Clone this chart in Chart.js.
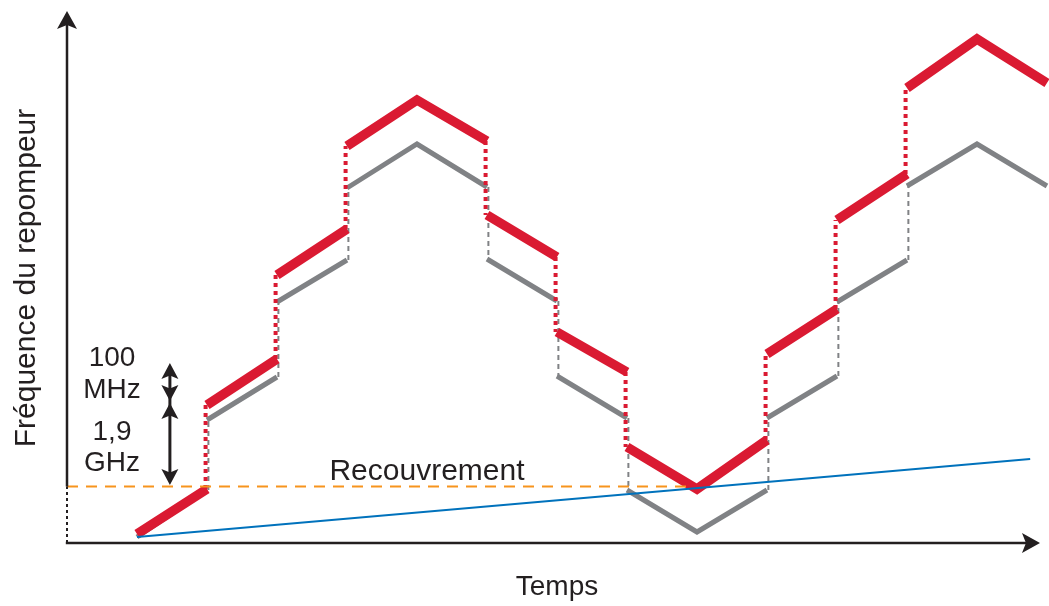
<!DOCTYPE html>
<html lang="fr">
<head>
  <meta charset="UTF-8">
  <title>Fréquence du repompeur</title>
  <script src="https://cdn.jsdelivr.net/npm/chart.js"></script>
  <style>
    body { margin: 0; background: #fff; }
    #wrap { width: 1049px; height: 606px; }
  </style>
</head>
<body>
<div id="wrap"><canvas id="chart" width="1049" height="606"></canvas></div>
<script>
  // time steps (start of each segment), frequency in arbitrary units
  const steps = [0, 1, 2, 3, 4, 5, 6, 7, 8, 9, 10, 11, 12];
  const redStart  = [0.9, 13.8, 26.8, 39.7, 44.3, 32.8, 21.1, 9.6, 5.4, 18.9, 32.3, 45.5, 50.4];
  const redEnd    = [5.4, 18.4, 31.4, 44.3, 40.2, 28.6, 17.1, 5.4, 10.3, 23.4, 36.9, 50.4, 46.0];
  const grayStart = [0.6, 12.3, 24.1, 35.5, 39.9, 28.4, 16.7, 5.3, 1.1, 12.5, 24.1, 35.7, 39.9];
  const grayEnd   = [5.3, 16.6, 28.3, 39.9, 35.6, 24.2, 12.5, 1.1, 5.3, 16.7, 28.3, 39.9, 35.7];
  const blueTime = [0, 12.76];
  const blueFreq = [0.6, 8.4];
  const recouvrement = 5.65;
  const recouvrementEnd = 7.85;
  const gapTime = 0.47;
  const gapLevels = [5.8, 14.1, 18.0];   // bottom, 1,9 GHz / 100 MHz split, top

  // segments with breaks (null) where the value jumps
  function segments(starts, ends) {
    const pts = [];
    steps.forEach((t, i) => {
      if (i === 0 || starts[i] !== ends[i - 1]) {
        if (i > 0) pts.push({ x: t, y: null });
        pts.push({ x: t, y: starts[i] });
      }
      pts.push({ x: t + 1, y: ends[i] });
    });
    return pts;
  }
  // vertical connectors at every jump
  function jumps(starts, ends, shift) {
    const pts = [];
    for (let i = 1; i < steps.length; i++) {
      if (starts[i] === ends[i - 1]) continue;
      pts.push({ x: steps[i] + shift, y: ends[i - 1] });
      pts.push({ x: steps[i] + shift, y: starts[i] });
      pts.push({ x: steps[i] + shift, y: null });
    }
    return pts;
  }

  const ink = '#231f20';

  function arrowHead(ctx, tx, ty, dx, dy, len, hw) {
    const bx = tx - dx * len, by = ty - dy * len;
    const nx = tx - dx * len * 0.78, ny = ty - dy * len * 0.78;
    ctx.beginPath();
    ctx.moveTo(tx, ty);
    ctx.lineTo(bx - dy * hw, by + dx * hw);
    ctx.lineTo(nx, ny);
    ctx.lineTo(bx + dy * hw, by - dx * hw);
    ctx.closePath();
    ctx.fill();
  }

  const overlay = {
    id: 'overlay',
    afterDraw(chart) {
      const { ctx, scales: { x, y } } = chart;
      const X = v => x.getPixelForValue(v), Y = v => y.getPixelForValue(v);
      ctx.save();
      ctx.strokeStyle = ink;
      ctx.fillStyle = ink;

      // axes
      const x0 = X(-1), y0 = Y(0);
      ctx.lineWidth = 2.5;
      ctx.beginPath();
      ctx.moveTo(x0, Y(recouvrement));
      ctx.lineTo(x0, 24);
      ctx.stroke();
      ctx.beginPath();
      ctx.moveTo(x0 - 1.2, y0);
      ctx.lineTo(1026, y0);
      ctx.stroke();
      ctx.setLineDash([3, 3]);
      ctx.lineWidth = 2;
      ctx.beginPath();
      ctx.moveTo(x0, y0);
      ctx.lineTo(x0, Y(recouvrement));
      ctx.stroke();
      ctx.setLineDash([]);
      arrowHead(ctx, x0, 11, 0, -1, 18, 10);
      arrowHead(ctx, 1040, y0, 1, 0, 18, 10);

      // double arrows
      const ax = X(gapTime);
      ctx.lineWidth = 3;
      ctx.beginPath();
      ctx.moveTo(ax, Y(gapLevels[2]) + 8);
      ctx.lineTo(ax, Y(gapLevels[0]) - 8);
      ctx.stroke();
      const mid = Y(gapLevels[1]);
      arrowHead(ctx, ax, Y(gapLevels[2]), 0, -1, 16, 8.5);
      arrowHead(ctx, ax, mid - 1, 0, 1, 16, 8.5);
      arrowHead(ctx, ax, mid + 1, 0, -1, 16, 8.5);
      arrowHead(ctx, ax, Y(gapLevels[0]), 0, 1, 16, 8.5);

      // texts
      ctx.font = '28px "Liberation Sans", Arial, sans-serif';
      ctx.textAlign = 'center';
      ctx.textBaseline = 'middle';
      ctx.fillText('100', 112, 358);
      ctx.fillText('MHz', 112, 390);
      ctx.fillText('1,9', 112, 432);
      ctx.fillText('GHz', 112, 463);
      ctx.font = '30px "Liberation Sans", Arial, sans-serif';
      ctx.fillText('Recouvrement', 427, 472);
      ctx.font = '28px "Liberation Sans", Arial, sans-serif';
      ctx.fillText('Temps', 557, 587);
      ctx.save();
      ctx.translate(27, 278);
      ctx.rotate(-Math.PI / 2);
      ctx.font = '30px "Liberation Sans", Arial, sans-serif';
      ctx.fillText('Fréquence du repompeur', 0, 0);
      ctx.restore();

      ctx.restore();
    }
  };

  const ctx = document.getElementById('chart').getContext('2d');
  new Chart(ctx, {
    type: 'scatter',
    data: {
      datasets: [
        {
          data: [{ x: -1, y: recouvrement }, { x: recouvrementEnd, y: recouvrement }],
          borderColor: '#f7941d', borderWidth: 2, borderDash: [11, 8], order: 1
        },
        {
          data: blueTime.map((t, i) => ({ x: t, y: blueFreq[i] })),
          borderColor: '#0072bc', borderWidth: 2, order: 2
        },
        {
          data: segments(redStart, redEnd),
          borderColor: '#da1a32', borderWidth: 9.5, order: 3
        },
        {
          data: jumps(redStart, redEnd, -0.02),
          borderColor: '#da1a32', borderWidth: 4, borderDash: [4, 4], order: 4
        },
        {
          data: segments(grayStart, grayEnd),
          borderColor: '#808285', borderWidth: 5, order: 5
        },
        {
          data: jumps(grayStart, grayEnd, 0.02),
          borderColor: '#808285', borderWidth: 2, borderDash: [5, 4], order: 6
        }
      ]
    },
    options: {
      responsive: false,
      animation: false,
      devicePixelRatio: 1,
      layout: { padding: { left: 67, right: 0, top: 0, bottom: 63 } },
      datasets: {
        scatter: {
          showLine: true, spanGaps: false, pointRadius: 0, clip: false,
          borderJoinStyle: 'miter', borderCapStyle: 'butt', tension: 0
        }
      },
      scales: {
        x: { type: 'linear', min: -1, max: 13.029, display: false },
        y: { type: 'linear', min: 0, max: 54.3, display: false }
      },
      plugins: { legend: { display: false }, tooltip: { enabled: false } }
    },
    plugins: [overlay]
  });
</script>
</body>
</html>
